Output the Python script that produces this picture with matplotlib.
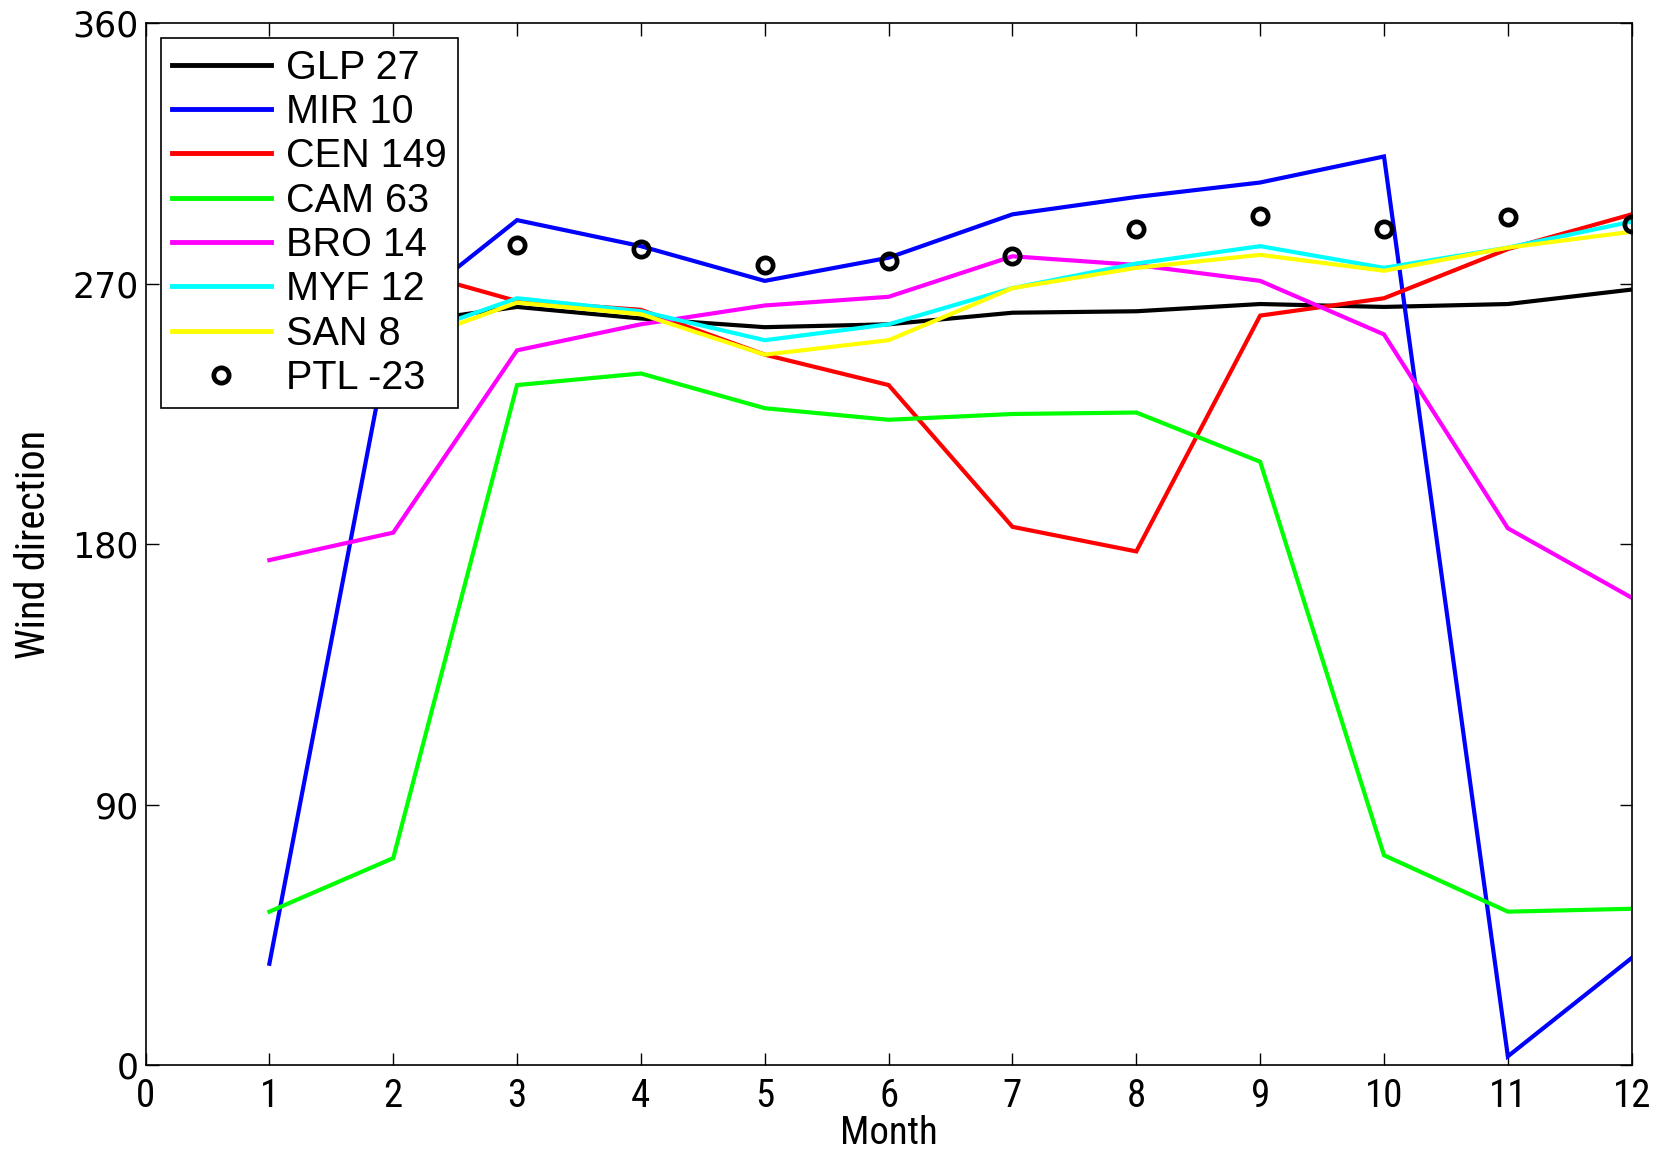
import numpy as np
import matplotlib
matplotlib.use("Agg")
import matplotlib.pyplot as plt
from matplotlib import font_manager

months = np.arange(1, 13)

glp27 = [255, 256, 262, 258, 255, 256, 260, 260.5, 263, 262, 263, 268]
mir10 = [35, 258, 292, 283, 271, 279, 294, 300, 305, 314, 3, 37]
cen149 = [268, 276, 264, 261, 245.5, 235, 186, 177.5, 259, 265, 282, 294]
cam63 = [53, 71.5, 235, 239, 227, 223, 225, 225.5, 208.5, 72.5, 53, 54]
bro14 = [174.5, 184, 247, 256, 262.5, 265.5, 279.5, 276.5, 271, 252.5, 185.5, 161.5]
myf12 = [245, 250, 265, 260.5, 250.5, 256, 268.5, 277, 283, 275.5, 282.5, 291.5]
san8 = [240, 248, 263.5, 259.5, 245.5, 250.5, 268.5, 275.5, 280, 274.5, 282.5, 288]
ptl_23 = [np.nan, np.nan, 283.5, 282, 276.5, 278, 279.5, 289, 293.5, 289, 293, 290.5]

series = [
    ("GLP 27", glp27, "#000000"),
    ("MIR 10", mir10, "#0000ff"),
    ("CEN 149", cen149, "#ff0000"),
    ("CAM 63", cam63, "#00ff00"),
    ("BRO 14", bro14, "#ff00ff"),
    ("MYF 12", myf12, "#00ffff"),
    ("SAN 8", san8, "#ffff00"),
]

plt.rcParams["font.family"] = ["Liberation Sans", "DejaVu Sans"]

# pick a condensed face for the month axis if one is available
installed = {f.name for f in font_manager.fontManager.ttflist}
narrow_face = "Liberation Sans"
for cand in ["Liberation Sans Narrow", "DejaVu Sans Condensed", "Roboto Condensed",
             "Open Sans Condensed", "Noto Sans Condensed"]:
    if cand in installed:
        narrow_face = cand
        break
narrow = [narrow_face, "DejaVu Sans"]
is_narrow = narrow_face != "Liberation Sans"

fig = plt.figure(figsize=(16.65, 11.51), dpi=100)
ax = fig.add_axes([0.0874, 0.0747, 0.8926, 0.905])

for label, vals, color in series:
    ax.plot(months, vals, color=color, lw=3.0, label=label, solid_joinstyle="miter")

ax.plot(months, ptl_23, linestyle="none", marker="o", markersize=11,
        markerfacecolor="none", markeredgecolor="black", markeredgewidth=3.4,
        label="PTL -23")

ax.set_xlim(0, 12)
ax.set_ylim(0, 360)
ax.set_xticks(np.arange(0, 13))
ax.set_yticks([0, 90, 180, 270, 360])
ax.tick_params(direction="in", length=9, width=1, top=True, right=True)
ax.tick_params(axis="y", labelsize=25, pad=5)
ax.tick_params(axis="x", pad=9)
for sp in ax.spines.values():
    sp.set_linewidth(1.2)

for t in ax.get_yticklabels():
    t.set_family(["DejaVu Sans"])
xt_size = 28 if is_narrow else 24
for t in ax.get_xticklabels():
    t.set_family(narrow)
    t.set_fontsize(xt_size)
ax.set_xlabel("Month", fontsize=xt_size, family=narrow, labelpad=0)
ax.set_ylabel("Wind direction", fontsize=xt_size + 1, family=narrow, labelpad=14)

leg = ax.legend(loc="upper left", bbox_to_anchor=(0.0104, 0.986),
                borderaxespad=0, fontsize=28.5, handlelength=2.5,
                handletextpad=0.4, labelspacing=0.16, borderpad=0.27,
                fancybox=False, framealpha=1, edgecolor="black")
leg.get_frame().set_linewidth(1.2)
for h in leg.get_lines():
    h.set_linewidth(3.5)

fig.savefig("out.png", dpi=100)
